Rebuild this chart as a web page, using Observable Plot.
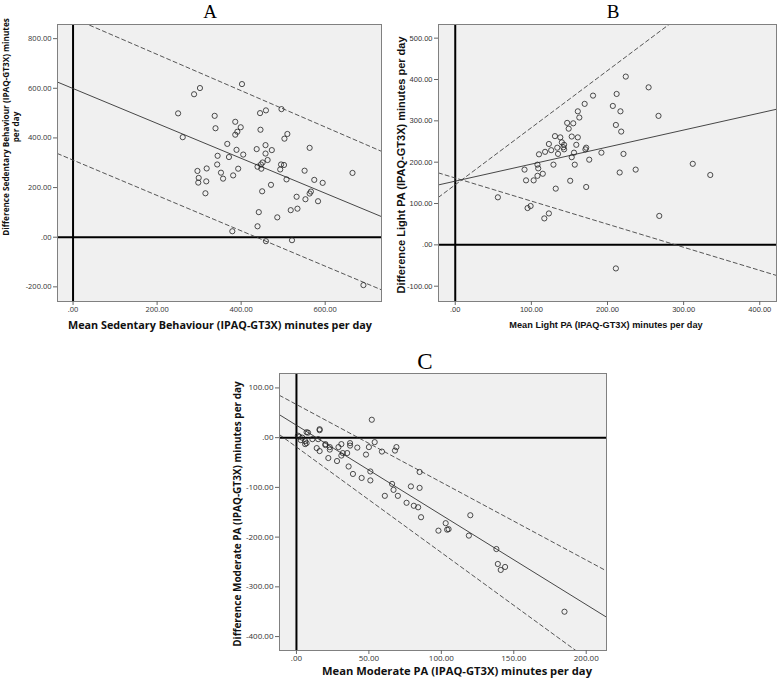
<!DOCTYPE html>
<html><head><meta charset="utf-8">
<script src="https://cdn.jsdelivr.net/npm/d3@7"></script>
<script src="https://cdn.jsdelivr.net/npm/@observablehq/plot@0.6"></script>
<style>
body{margin:0;background:#fff;}
#root{position:relative;width:778px;height:679px;background:#fff;overflow:hidden;}
.p{position:absolute;}
.title{position:absolute;transform:translate(-50%,-50%);line-height:1;color:#000;}
.lab{position:absolute;white-space:nowrap;text-align:center;transform:translate(-50%,-50%);color:#111;font-weight:bold;line-height:1.1;}
.rot{transform:translate(-50%,-50%) rotate(-90deg);}
</style>
</head><body>
<div id="root"></div>
<script>
// ---------- Panel A: Sedentary behaviour ----------
const aX = [250,261,288,302,402,337,339,296,299,298,318,317,315,344,343,352,357,367,371,381,386,386,391,399,389,393,405,379,437,445,446,459,458,458,463,473,439,447,448,451,450,471,442,439,459,486,496,510,503,495,502,493,508,518,521,534,532,551,553,563,563,566,574,583,594,665,691];
const aY = [499,403,576,601,617,489,439,267,239,220,277,225,177,328,293,260,236,376,323,249,465,413,425,443,352,276,333,24,355,500,433,511,371,337,311,351,284,293,276,301,185,211,101,44,-16,80,516,416,397,293,291,273,233,109,-12,115,163,268,153,360,176,184,231,145,219,259,-193];
const aLineX = [-37,734];
const aMean = [625,83];
const aUpper = [910,346];
const aLower = [337,-212];
const aXTicks = [0,200,400,600];
const aYTicks = [-200,0,200,400,600,800];

// ---------- Panel B: Light PA ----------
const bX = [56,91,93,95,99,103,108,109,108,110,115,118,117,123,123,126,129,131,132,134,135,138,140,142,143,143,147,149,151,153,153,155,156,157,159,161,161,163,170,171,172,172,176,181,192,207,211,212,211,216,217,218,221,224,237,254,267,268,312,335];
const bY = [115,182,156,89,94,156,194,185,167,219,172,225,64,244,76,229,194,263,136,235,220,260,248,236,231,242,295,281,155,212,262,294,223,194,242,260,323,308,341,231,235,140,206,361,223,336,290,365,-57,175,323,274,220,407,182,381,312,70,196,169];
const bLineX = [-22,422];
const bMean = [145,328];
const bUpper = [115,728];
const bLower = [174,-74];
const bXTicks = [0,100,200,300,400];
const bYTicks = [-100,0,100,200,300,400,500];

// ---------- Panel C: Moderate PA ----------
const cX = [1,2,3,4,6,7,8,6,7,11,15,16,16,14,16,20,20,23,23,22,29,28,31,31,32,35,36,37,37,39,42,45,48,50,51,51,52,54,59,61,66,67,68,69,70,76,79,81,84,85,85,86,98,103,104,105,120,119,138,139,141,144,185];
const cY = [4,2,-5,0,-7,11,10,-13,-11,-3,-3,15,17,-21,-27,-13,-15,-19,-24,-41,-19,-47,-13,-36,-31,-31,-58,-11,-16,-73,-20,-81,-34,-19,-68,-86,36,-9,-28,-117,-93,-105,-26,-19,-117,-131,-98,-137,-140,-101,-69,-160,-187,-172,-185,-184,-156,-197,-224,-254,-266,-260,-350];
const cLineX = [-11.7,214];
const cMean = [46,-361];
const cUpper = [85,-268];
const cLower = [6,-473];
const cXTicks = [0,50,100,150,200];
const cYTicks = [-400,-300,-200,-100,0,100];

const fmt = d => d === 0 ? ".00" : d.toFixed(2);
const root = document.getElementById("root");

function panel(o) {
  const pts = o.xs.map((x, i) => ({x, y: o.ys[i]}));
  const ln = vals => o.lineX.map((x, i) => ({x, y: vals[i]}));
  const chart = Plot.plot({
    width: o.width, height: o.height,
    marginLeft: o.ml, marginRight: o.mr, marginTop: o.mt, marginBottom: o.mb,
    x: {domain: o.xDomain},
    y: {domain: o.yDomain},
    style: {fontFamily: o.tickFont, fontSize: o.tickSize + "px", color: "#444", background: "transparent", overflow: "visible"},
    marks: [
      Plot.frame({fill: "#f0f0f0", stroke: "none"}),
      Plot.ruleX([0], {stroke: "#000", strokeWidth: 2}),
      Plot.ruleY([0], {stroke: "#000", strokeWidth: 2}),
      Plot.line(ln(o.mean), {x: "x", y: "y", stroke: "#333", strokeWidth: 0.9, clip: true}),
      Plot.line(ln(o.upper), {x: "x", y: "y", stroke: "#444", strokeWidth: 0.9, strokeDasharray: "4,3", clip: true}),
      Plot.line(ln(o.lower), {x: "x", y: "y", stroke: "#444", strokeWidth: 0.9, strokeDasharray: "4,3", clip: true}),
      Plot.dot(pts, {x: "x", y: "y", r: 2.6, stroke: "#222", strokeWidth: 0.8, fill: "none"}),
      Plot.frame({stroke: "#808080", strokeWidth: 1}),
      Plot.axisX({ticks: o.xTicks, tickFormat: fmt, tickSize: 4, tickPadding: 1, label: null, stroke: "#666", fill: "#333"}),
      Plot.axisY({ticks: o.yTicks, tickFormat: fmt, tickSize: 4, tickPadding: 2, label: null, stroke: "#666", fill: "#333"})
    ]
  });
  chart.classList.add("p");
  chart.style.left = o.left + "px";
  chart.style.top = o.top + "px";
  root.appendChild(chart);
}

function text(str, cls, x, y, font, size, extra) {
  const d = document.createElement("div");
  d.className = cls;
  d.style.left = x + "px";
  d.style.top = y + "px";
  d.style.fontFamily = font;
  d.style.fontSize = size + "px";
  if (extra) Object.assign(d.style, extra);
  d.innerHTML = str;
  root.appendChild(d);
}

const humanist = '"Open Sans","DejaVu Sans",sans-serif';
const arial = '"Liberation Sans",Arial,sans-serif';
const serif = '"Liberation Serif","DejaVu Serif",serif';

panel({xs: aX, ys: aY, lineX: aLineX, mean: aMean, upper: aUpper, lower: aLower,
  xTicks: aXTicks, yTicks: aYTicks, xDomain: [-37,734], yDomain: [-259,857],
  width: 390, height: 335, ml: 57, mr: 9, mt: 24, mb: 34, left: 0, top: 0,
  tickFont: humanist, tickSize: 7.5});
panel({xs: bX, ys: bY, lineX: bLineX, mean: bMean, upper: bUpper, lower: bLower,
  xTicks: bXTicks, yTicks: bYTicks, xDomain: [-22,422], yDomain: [-137,533],
  width: 388, height: 335, ml: 48, mr: 2, mt: 24, mb: 34, left: 390, top: 0,
  tickFont: arial, tickSize: 7.5});
panel({xs: cX, ys: cY, lineX: cLineX, mean: cMean, upper: cUpper, lower: cLower,
  xTicks: cXTicks, yTicks: cYTicks, xDomain: [-11.7,214], yDomain: [-428,129],
  width: 410, height: 339, ml: 79, mr: 4, mt: 33, mb: 29, left: 200, top: 340,
  tickFont: humanist, tickSize: 8});

// titles
text("A", "title", 210, 11, serif, 19);
text("B", "title", 613, 11, serif, 19);
text("C", "title", 425, 361, serif, 23);

// axis titles
text("Mean Sedentary Behaviour (IPAQ-GT3X) minutes per day", "lab", 220, 325, humanist, 10.8);
text("Difference Sedentary Behaviour (IPAQ-GT3X) minutes<br>per day", "lab rot", 11, 127, humanist, 8.2, {lineHeight: "10px"});
text("Mean Light PA (IPAQ-GT3X) minutes per day", "lab", 606, 325, arial, 9.2);
text("Difference Light PA (IPAQ-GT3X) minutes per day", "lab rot", 401, 165, arial, 11);
text("Mean Moderate PA (IPAQ-GT3X) minutes per day", "lab", 457, 671, humanist, 11.2);
text("Difference Moderate PA (IPAQ-GT3X) minutes per day", "lab rot", 237, 514, humanist, 10);
</script>
</body></html>
